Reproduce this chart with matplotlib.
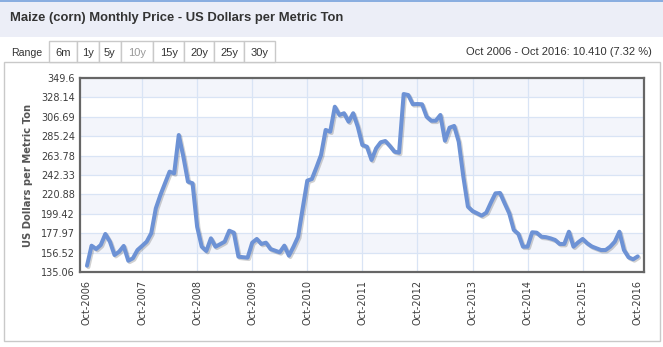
import matplotlib
matplotlib.use("Agg")
import matplotlib.pyplot as plt
import matplotlib.patheffects as pe
from matplotlib.patches import Rectangle

# monthly maize price, Oct 2006 .. Oct 2016 (USD per metric ton)
PRICES = [
    142.3, 164.4, 160.7, 165.2, 177.3, 168.8, 154.1, 157.8, 164.1, 147.8, 150.5, 159.6,
    164.1, 168.8, 178.1, 205.6, 220.3, 233.2, 246.0, 244.2, 286.4, 262.5, 235.0, 233.2,
    185.3, 163.3, 158.5, 172.5, 163.3, 166.0, 168.8, 180.9, 178.7, 152.3, 151.7, 151.2,
    167.7, 171.8, 166.3, 167.7, 160.7, 158.9, 157.1, 164.4, 153.4, 163.3, 174.3, 205.6,
    236.1, 237.9, 250.8, 264.4, 292.0, 290.1, 317.6, 308.5, 310.4, 301.1, 310.4, 295.6,
    275.4, 273.5, 258.9, 271.7, 278.4, 279.8, 274.3, 268.0, 266.9, 331.6, 330.5, 320.3,
    320.6, 320.3, 306.6, 302.2, 302.2, 308.5, 280.1, 294.5, 296.4, 279.0, 240.5, 207.4,
    202.6, 200.1, 197.5, 200.8, 211.8, 222.1, 222.5, 211.1, 200.1, 181.7, 177.3, 163.3,
    163.3, 179.2, 178.7, 174.3, 173.8, 172.5, 170.7, 166.3, 166.3, 179.8, 163.3, 168.0,
    171.8, 167.0, 163.5, 161.5, 159.6, 159.6, 163.3, 168.8, 179.8, 159.6, 151.6, 149.4,
    152.6,
]
YEARS = list(range(2006, 2017))
X_LABELS = [f"Oct-{y}" for y in YEARS]
Y_TICKS = [135.06, 156.52, 177.97, 199.42, 220.88, 242.33,
           263.78, 285.24, 306.69, 328.14, 349.6]
Y_LABELS = ["135.06", "156.52", "177.97", "199.42", "220.88", "242.33",
            "263.78", "285.24", "306.69", "328.14", "349.6"]
RANGE_BUTTONS = ["6m", "1y", "5y", "10y", "15y", "20y", "25y", "30y"]
SELECTED = "10y"

TITLE = "Maize (corn) Monthly Price - US Dollars per Metric Ton"
SUMMARY = "Oct 2006 - Oct 2016: 10.410 (7.32 %)"
Y_TITLE = "US Dollars per Metric Ton"

W, H = 663, 347
LINE = "#6d92d5"
GRID = "#d9e4f5"
BAND = "#f3f5fb"
BORDER = "#c9c9c9"


def fx(x):
    return x / W


def fy(y):
    return 1 - y / H


def rect(fig, x0, y0, x1, y1, **kw):
    fig.patches.append(Rectangle((fx(x0), fy(y1)), fx(x1) - fx(x0), fy(y0) - fy(y1),
                                 transform=fig.transFigure, figure=fig, **kw))


fig = plt.figure(figsize=(W / 100, H / 100), dpi=100)
fig.patch.set_facecolor("white")

# header band + thin blue top line
rect(fig, 0, 1.5, W, 37, facecolor="#eceef7", edgecolor="none", zorder=0)
rect(fig, 0, 0, W, 1.5, facecolor="#8aaee0", edgecolor="none", zorder=0)
fig.text(fx(10.5), fy(18.5), TITLE, family="Liberation Sans", fontweight="bold",
         fontsize=9.4, color="#333333", ha="left", va="center")

# chart box
rect(fig, 3.5, 62, 660, 341, facecolor="none", edgecolor=BORDER, lw=1, zorder=1)

# range selector row
fig.text(fx(11.5), fy(52.5), "Range", family="Liberation Sans", fontsize=7.6,
         color="#333333", ha="left", va="center")
edges = [49, 76.7, 99, 120.7, 153.3, 184.3, 214, 244, 275]
for i, lab in enumerate(RANGE_BUTTONS):
    x0, x1 = edges[i], edges[i + 1]
    rect(fig, x0, 41, x1, 62, facecolor="white", edgecolor=BORDER, lw=1, zorder=1)
    fig.text(fx((x0 + x1) / 2), fy(52.5), lab, family="Liberation Sans", fontsize=8,
             color="#999999" if lab == SELECTED else "#333333",
             ha="center", va="center")
fig.text(fx(652), fy(52), SUMMARY, family="Liberation Sans", fontsize=8,
         color="#333333", ha="right", va="center")

# plot area
ax = fig.add_axes([fx(79.5), fy(272.3), fx(643.7) - fx(79.5), fy(77.7) - fy(272.3)])
months = list(range(len(PRICES)))

# alternating bands, shaded from the top one down
for k in range(len(Y_TICKS) - 1):
    if (len(Y_TICKS) - 2 - k) % 2 == 0:
        ax.axhspan(Y_TICKS[k], Y_TICKS[k + 1], color=BAND, lw=0, zorder=0)
for v in Y_TICKS[1:-1]:
    ax.axhline(v, color=GRID, lw=0.9, zorder=1)
for m in range(12, 120, 12):
    ax.axvline(m, color=GRID, lw=0.9, zorder=1)

ax.plot(months, PRICES, color=LINE, lw=2.9, solid_joinstyle="round",
        solid_capstyle="round", zorder=3,
        path_effects=[pe.SimpleLineShadow(offset=(1, -1), shadow_color="k", alpha=0.18),
                      pe.Normal()])

ax.set_xlim(-1.63, 121.3)
ax.set_ylim(Y_TICKS[0], Y_TICKS[-1])
ax.set_yticks(Y_TICKS)
ax.set_yticklabels(Y_LABELS)
ax.set_xticks(list(range(0, 121, 12)))
ax.set_xticklabels(X_LABELS, rotation=90)
ax.tick_params(axis="y", length=0, pad=3.3, labelsize=7, labelcolor="#3d3d3d")
ax.tick_params(axis="x", length=0, pad=5.5, labelsize=7, labelcolor="#3d3d3d")
ax.set_ylabel(Y_TITLE, fontsize=7.2, fontweight="bold", color="#555555", va="center")
ax.yaxis.set_label_coords((28 - 79.5) / 564.2, 0.5)

for s in ax.spines.values():
    s.set_color("#666666")
    s.set_linewidth(1.6)
    s.set_zorder(4)

fig.savefig("out.png", dpi=100, facecolor="white")
